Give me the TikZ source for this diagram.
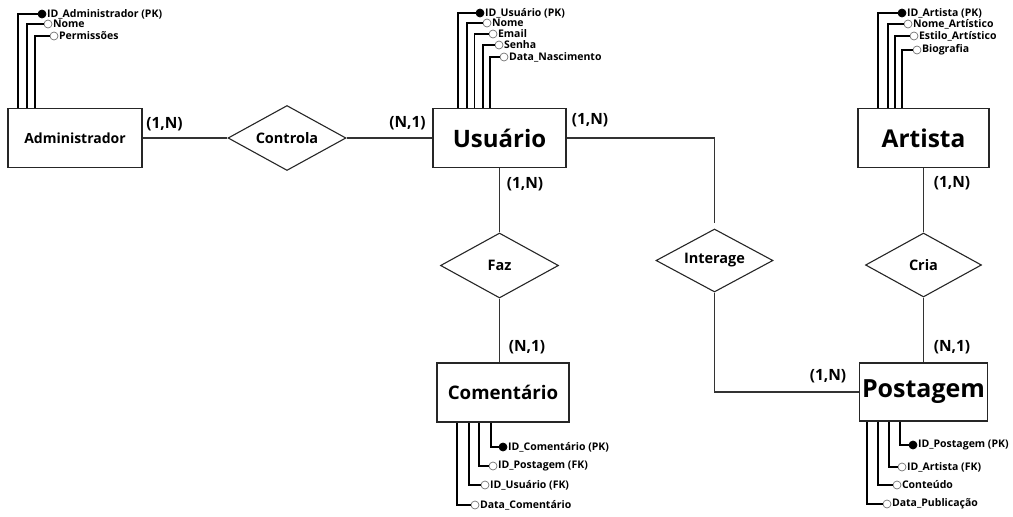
\documentclass[tikz,border=0pt]{standalone}
\usepackage{fontspec}
\setmainfont{Open Sans}
\usetikzlibrary{shapes.geometric}

\newcommand\fs[1]{\fontsize{#1}{#1}\selectfont\bfseries}

\tikzset{
  entity/.style={draw=black!85, line width=1.2pt, fill=white, inner sep=0pt,
                 minimum width=#1, minimum height=59pt},
  relation/.style={diamond, draw=black!85, line width=1.1pt, fill=white, inner sep=0pt,
                   aspect=1.8, minimum width=118pt, minimum height=65pt,
                   font=\fs{14.5}},
  conn/.style={draw=black!80, line width=1.1pt},
  attr/.style={draw=black, line width=1.7pt},
  dot/.style={circle, draw=black!55, line width=0.7pt, fill=white,
              minimum size=8pt, inner sep=0pt},
  pk/.style={dot, draw=black, fill=black},
  attrtext/.style={anchor=west, inner sep=0.5pt, font=\fs{10.5}},
  card/.style={font=\fs{15.5}, inner sep=0pt}
}

\begin{document}
\begin{tikzpicture}[x=1pt, y=-1pt]
\useasboundingbox (0,0) rectangle (1013,517);

% entities
\node[entity=134pt, font=\fs{14}] (adm) at (75,138) {Administrador};
\node[entity=133pt, font=\fs{24}] (usr) at (499.5,138) {Usuário};
\node[entity=131pt, font=\fs{24.5}] (art) at (923.5,138) {Artista};
\node[entity=132pt, font=\fs{18.7}] (com) at (503,392.5) {Comentário};
\node[entity=128pt, minimum height=58pt, font=\fs{25}] (pos) at (923.5,392) {Postagem};

% relationships
\node[relation] (ctl) at (287,138) {Controla};
\node[relation] (faz) at (499.5,265.5) {Faz};
\node[relation, minimum width=117pt, minimum height=63pt] (int) at (714.5,260.5) {Interage};
\node[relation, minimum width=116pt, minimum height=64pt] (cria) at (923.5,265) {Cria};

% connectors
\coordinate (intin) at (714.5,223);
\draw[conn] (adm) -- (ctl);
\draw[conn] (ctl) -- (usr);
\draw[conn] (usr) -- (faz);
\draw[conn] (faz) -- (faz |- com.north);
\draw[conn] (usr.east) -| (intin);
\draw[conn] (int.south) |- (pos.west);
\draw[conn] (art) -- (cria);
\draw[conn] (cria) -- (pos);

% cardinalities
\node[card] (c1) at (164.5,124) {(1,N)};
\node[card] (c2) at (407.5,123) {(N,1)};
\node[card] (c3) at (590,120) {(1,N)};
\node[card] (c4) at (525,184) {(1,N)};
\node[card] (c5) at (527,347) {(N,1)};
\node[card] (c6) at (828,376) {(1,N)};
\node[card] (c7) at (952,183) {(1,N)};
\node[card] (c8) at (952,347) {(N,1)};

% Administrador attributes
\node[pk]  (adm1) at (42,14) {};
\node[dot] (adm2) at (48,24) {};
\node[dot] (adm3) at (54,36) {};
\draw[attr] (adm.north -| 18,0) |- (adm1.west);
\draw[attr] (adm.north -| 27,0) |- (adm2.west);
\draw[attr] (adm.north -| 35,0) |- (adm3.west);
\node[attrtext] (adm1t) at (adm1.east) {ID\_Administrador (PK)};
\node[attrtext] (adm2t) at (adm2.east) {Nome};
\node[attrtext] (adm3t) at (adm3.east) {Permissões};

% Usuário attributes
\node[pk]  (usr1) at (480,13) {};
\node[dot] (usr2) at (487,23) {};
\node[dot] (usr3) at (493,34) {};
\node[dot] (usr4) at (499,45) {};
\node[dot] (usr5) at (504,57) {};
\draw[attr] (usr.north -| 458,0) |- (usr1.west);
\draw[attr] (usr.north -| 467,0) |- (usr2.west);
\draw[attr] (usr.north -| 474.5,0) |- (usr3.west);
\draw[attr] (usr.north -| 483,0) |- (usr4.west);
\draw[attr] (usr.north -| 490,0) |- (usr5.west);
\node[attrtext] (usr1t) at (usr1.east) {ID\_Usuário (PK)};
\node[attrtext] (usr2t) at (usr2.east) {Nome};
\node[attrtext] (usr3t) at (usr3.east) {Email};
\node[attrtext] (usr4t) at (usr4.east) {Senha};
\node[attrtext] (usr5t) at (usr5.east) {Data\_Nascimento};

% Artista attributes
\node[pk]  (art1) at (902,13) {};
\node[dot] (art2) at (908,24) {};
\node[dot] (art3) at (914,36) {};
\node[dot] (art4) at (917,50) {};
\draw[attr] (art.north -| 878,0) |- (art1.west);
\draw[attr] (art.north -| 888,0) |- (art2.west);
\draw[attr] (art.north -| 895,0) |- (art3.west);
\draw[attr] (art.north -| 902,0) |- (art4.west);
\node[attrtext] (art1t) at (art1.east) {ID\_Artista (PK)};
\node[attrtext] (art2t) at (art2.east) {Nome\_Artístico};
\node[attrtext] (art3t) at (art3.east) {Estilo\_Artístico};
\node[attrtext] (art4t) at (art4.east) {Biografia};

% Comentário attributes
\node[pk]  (com1) at (503,447) {};
\node[dot] (com2) at (493,466) {};
\node[dot] (com3) at (485,485) {};
\node[dot] (com4) at (475,505) {};
\draw[attr] (com.south -| 491,0) |- (com1.west);
\draw[attr] (com.south -| 479,0) |- (com2.west);
\draw[attr] (com.south -| 469,0) |- (com3.west);
\draw[attr] (com.south -| 457,0) |- (com4.west);
\node[attrtext] (com1t) at (com1.east) {ID\_Comentário (PK)};
\node[attrtext] (com2t) at (com2.east) {ID\_Postagem (FK)};
\node[attrtext] (com3t) at (com3.east) {ID\_Usuário (FK)};
\node[attrtext] (com4t) at (com4.east) {Data\_Comentário};

% Postagem attributes
\node[pk]  (pos1) at (913,445) {};
\node[dot] (pos2) at (902,467) {};
\node[dot] (pos3) at (897,485) {};
\node[dot] (pos4) at (887,504) {};
\draw[attr] (pos.south -| 900,0) |- (pos1.west);
\draw[attr] (pos.south -| 889,0) |- (pos2.west);
\draw[attr] (pos.south -| 878,0) |- (pos3.west);
\draw[attr] (pos.south -| 867,0) |- (pos4.west);
\node[attrtext] (pos1t) at (pos1.east) {ID\_Postagem (PK)};
\node[attrtext] (pos2t) at (pos2.east) {ID\_Artista (FK)};
\node[attrtext] (pos3t) at (pos3.east) {Conteúdo};
\node[attrtext] (pos4t) at (pos4.east) {Data\_Publicação};
\end{tikzpicture}
\end{document}
